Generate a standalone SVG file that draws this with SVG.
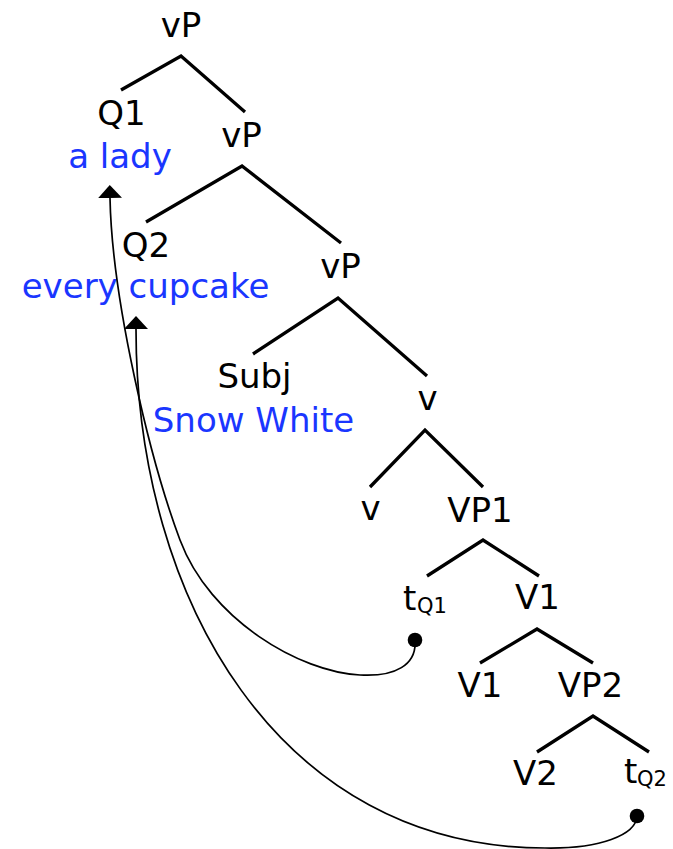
<svg xmlns="http://www.w3.org/2000/svg" width="673" height="849" viewBox="0 0 673 849">
<style>
text{font-family:"DejaVu Sans","Noto Sans",sans-serif;font-size:34px;fill:#000;text-anchor:middle}
text.blue{fill:#1a36ff}
text.sub{font-size:21px;text-anchor:start}
text.t{text-anchor:start}
.branch{fill:none;stroke:#000;stroke-width:3.3;stroke-linejoin:miter}
.move{fill:none;stroke:#000;stroke-width:1.7}
</style>
<defs>
<marker id="arrow" viewBox="0 -12 13 24" refX="0" refY="0" markerWidth="13" markerHeight="24" markerUnits="userSpaceOnUse" orient="auto">
<path d="M0,-12 L13,0 L0,12 z" fill="#000"/>
</marker>
<marker id="dot" viewBox="-8 -8 16 16" refX="0" refY="0" markerWidth="16" markerHeight="16" markerUnits="userSpaceOnUse">
<circle cx="0" cy="0" r="7.3" fill="#000"/>
</marker>
</defs>
<g id="nodes">
<g id="vP-top"><text x="181" y="37">vP</text></g>
<g id="Q1"><text x="121.5" y="125">Q1</text><text class="blue" x="120" y="168">a lady</text></g>
<g id="vP-2"><text x="241.5" y="147">vP</text></g>
<g id="Q2"><text x="146" y="257">Q2</text><text class="blue" x="145.5" y="298">every cupcake</text></g>
<g id="vP-3"><text x="340.5" y="278">vP</text></g>
<g id="Subj"><text x="254.5" y="388">Subj</text><text class="blue" x="253.5" y="432">Snow White</text></g>
<g id="v-bar"><text x="427.5" y="410">v</text></g>
<g id="v-head"><text x="370.5" y="520">v</text></g>
<g id="VP1"><text x="480" y="522">VP1</text></g>
<g id="tQ1"><text class="t" x="403" y="610">t</text><text class="sub" x="417" y="613">Q1</text></g>
<g id="V1-bar"><text x="537.5" y="609">V1</text></g>
<g id="V1-head"><text x="480" y="697">V1</text></g>
<g id="VP2"><text x="590.5" y="697">VP2</text></g>
<g id="V2"><text x="535.5" y="785">V2</text></g>
<g id="tQ2"><text class="t" x="624" y="783">t</text><text class="sub" x="637" y="786">Q2</text></g>
</g>
<g id="connectors">
<polyline class="branch" points="121,90 181,56 245,112"/>
<polyline class="branch" points="146,222 242,166 341,243"/>
<polyline class="branch" points="253,354 338,298 427,376"/>
<polyline class="branch" points="370,487 425,430 483,487"/>
<polyline class="branch" points="427,576 483,540 539,576"/>
<polyline class="branch" points="480,663 537,629 593,663"/>
<polyline class="branch" points="537,752 593,716 649,752"/>
<path class="move" marker-start="url(#dot)" marker-end="url(#arrow)" d="M415,640 C417,665 395,677 360,675 C300,672 210,620 180,540 C150,460 112,300 110,198"/>
<path class="move" marker-start="url(#dot)" marker-end="url(#arrow)" d="M637,816 C636,835 600,849 545,848 C280,848 136,600 136,329"/>
</g>
</svg>
